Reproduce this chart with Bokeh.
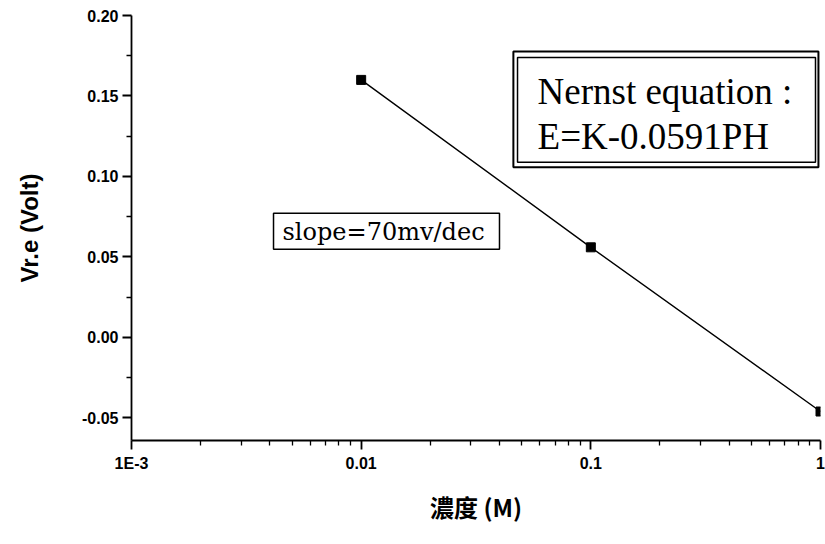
from bokeh.plotting import figure
from bokeh.models import FixedTicker, CustomJSTickFormatter, BoxAnnotation, Label
from bokeh.embed import file_html
from bokeh.resources import INLINE

# ---- data ----
concentration = [0.01, 0.1, 1.0]          # M
voltage = [0.160, 0.056, -0.046]          # Volt

x_ticks = [0.001, 0.01, 0.1, 1.0]
x_tick_labels = ["1E-3", "0.01", "0.1", "1"]
y_ticks = [-0.05, 0.0, 0.05, 0.10, 0.15, 0.20]
y_minor = [-0.025, 0.025, 0.075, 0.125, 0.175]

x_label = "濃度 (M)"
y_label = "Vr.e (Volt)"
note_lines = ["Nernst equation :", "E=K-0.0591PH"]
slope_text = "slope=70mv/dec"

p = figure(width=825, height=544, x_axis_type="log",
           x_range=(1e-3, 1.0), y_range=(-0.064, 0.20),
           output_backend="svg", toolbar_location=None,
           min_border_left=131, min_border_right=5,
           min_border_top=15, min_border_bottom=104)
p.xgrid.visible = False
p.ygrid.visible = False
p.outline_line_color = None
p.background_fill_color = "white"
p.border_fill_color = "white"

x_minor = [m * d for d in x_ticks[:-1] for m in range(2, 10)]
p.xaxis.ticker = FixedTicker(ticks=x_ticks, minor_ticks=x_minor)
p.xaxis.formatter = CustomJSTickFormatter(
    args=dict(dticks=x_ticks, dlabels=x_tick_labels),
    code="""
let b = 0;
for (let i = 0; i < dticks.length; i++) {
  if (Math.abs(Math.log10(tick) - Math.log10(dticks[i])) <
      Math.abs(Math.log10(tick) - Math.log10(dticks[b]))) b = i;
}
return dlabels[b];
""")
p.yaxis.ticker = FixedTicker(ticks=y_ticks, minor_ticks=y_minor)
p.yaxis.formatter = CustomJSTickFormatter(code="return tick.toFixed(2);")

for ax in (p.xaxis, p.yaxis):
    ax.axis_line_color = "black"
    ax.axis_line_width = 1.8
    ax.major_tick_line_color = "black"
    ax.major_tick_line_width = 1.8
    ax.minor_tick_line_color = "black"
    ax.minor_tick_line_width = 1.3
    ax.major_tick_in = 0
    ax.major_tick_out = 9
    ax.minor_tick_in = 0
    ax.minor_tick_out = 5
    ax.major_label_text_font = "Liberation Sans"
    ax.major_label_text_font_size = "16px"
    ax.major_label_text_font_style = "bold"
    ax.major_label_text_color = "black"
    ax.axis_label_text_font_style = "bold"
    ax.axis_label_text_color = "black"
    ax.axis_label_text_font_size = "24px"

p.xaxis.major_label_standoff = 5
p.yaxis.major_label_standoff = 4
p.xaxis.axis_label = x_label
p.xaxis.axis_label_text_font = "Noto Sans CJK TC"
p.xaxis.axis_label_standoff = 14
p.yaxis.axis_label = y_label
p.yaxis.axis_label_text_font = "Liberation Sans"
p.yaxis.axis_label_standoff = 36

p.line(concentration, voltage, line_color="black", line_width=1.4)
p.scatter(concentration, voltage, marker="square", size=9,
          fill_color="black", line_color="black")

# Nernst box (double border)
p.add_layout(BoxAnnotation(left=0.0460, right=0.9796, top=0.1777, bottom=0.1057,
                           fill_color="white", fill_alpha=1.0,
                           line_color="black", line_alpha=1.0, line_width=2.0))
p.add_layout(BoxAnnotation(left=0.04795, right=0.9511, top=0.1739, bottom=0.1088,
                           fill_alpha=0.0, line_color="black", line_alpha=1.0,
                           line_width=1.5))
p.add_layout(Label(x=0.0586, y=0.1528, text=note_lines[0],
                   text_font="Liberation Serif", text_font_size="37px",
                   text_baseline="alphabetic", text_color="black"))
p.add_layout(Label(x=0.0586, y=0.1249, text=note_lines[1],
                   text_font="Liberation Serif", text_font_size="37px",
                   text_baseline="alphabetic", text_color="black"))

# slope box
p.add_layout(BoxAnnotation(left=0.004153, right=0.04002, top=0.0772, bottom=0.0548,
                           fill_color="white", fill_alpha=1.0,
                           line_color="black", line_alpha=1.0, line_width=1.5))
p.add_layout(Label(x=0.004546, y=0.0655, text=slope_text,
                   text_font="DejaVu Serif", text_font_size="24px",
                   text_baseline="alphabetic", text_color="black"))

open("out.html", "w").write(file_html(p, INLINE))
